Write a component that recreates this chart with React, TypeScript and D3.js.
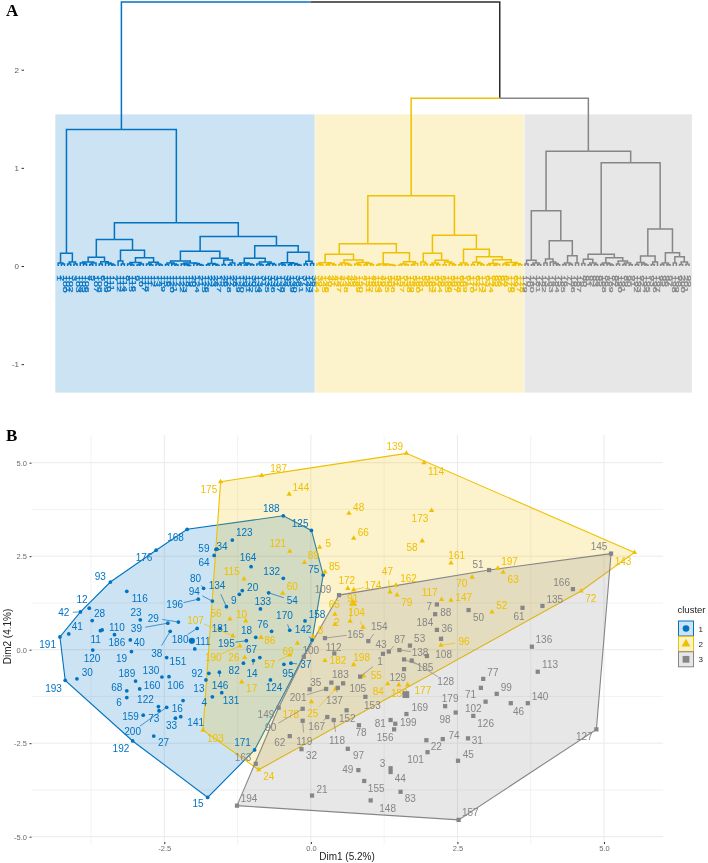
import React, { useEffect, useRef } from 'react';
import * as d3 from 'd3';

// scatter data: one set of arrays per cluster
const blueIds = [4, 6, 9, 11, 12, 13, 14, 15, 16, 18, 19, 20, 23, 27, 28, 29, 30, 33, 34, 37, 38, 39, 40, 41, 42, 54, 59, 64, 67, 68, 73, 75, 76, 80, 82, 92, 93, 94, 95, 106, 110, 111, 116, 120, 122, 123, 124, 125, 130, 131, 132, 133, 134, 141, 142, 146, 151, 158, 159, 160, 164, 168, 170, 171, 176, 180, 181, 186, 188, 189, 191, 192, 193, 195, 196, 200];
const blueDim1 = [-1.68, -3.14, -1.22, -3.59, -3.78, -1.79, -0.98, -1.76, -2.18, -0.94, -3.06, -1.17, -2.91, -2.68, -3.73, -2.26, -3.99, -2.31, -1.6, -0.34, -2.4, -2.44, -3.08, -4.13, -3.93, -0.72, -1.62, -1.65, -0.87, -3.14, -2.59, 0.21, -0.67, -1.83, -1.15, -1.74, -3.42, -1.68, -0.46, -2.42, -3.56, -1.98, -3.14, -3.72, -2.6, -1.34, -0.69, 0.01, -2.54, -1.52, -0.47, -0.86, -1.44, -2.22, 0.02, -1.56, -2.46, -0.1, -2.86, -2.92, -1.02, -2.11, -0.36, -0.96, -2.64, -1.94, -1.55, -3.35, -0.47, -2.99, -4.28, -3.04, -4.19, -1.1, -1.92, -2.46];
const blueDim2 = [-1.26, -1.28, 1.48, 0.51, 1.11, -0.81, -0.29, -3.95, -1.36, 0.33, -0.05, 1.58, 0.8, -2.31, 0.78, 0.74, -0.78, -1.83, 2.69, -0.36, 0.49, 0.71, 0.26, 0.42, 1.01, 1.52, 2.68, 2.52, -0.21, -1.1, -1.63, 2.0, 0.49, 1.64, -0.36, -0.63, 1.81, 1.3, -0.39, -0.72, 0.53, 0.02, 1.56, -0.01, -1.52, 2.93, -0.81, 3.19, -0.73, -1.15, 1.91, 1.09, 1.15, -1.79, 0.26, -0.6, -0.21, 0.77, -1.75, -1.05, 2.22, 3.22, 0.52, -2.68, 2.66, 0.57, 0.57, 0.4, 3.58, -0.84, 0.34, -2.44, -0.82, 0.24, 1.35, -1.54];

const yellowIds = [2, 5, 8, 10, 17, 24, 25, 26, 47, 48, 52, 55, 56, 57, 58, 60, 63, 65, 66, 69, 70, 72, 79, 84, 85, 86, 89, 91, 96, 103, 104, 107, 114, 115, 117, 121, 139, 143, 144, 147, 150, 161, 162, 172, 173, 174, 175, 177, 178, 182, 187, 190, 197, 198];
const yellowDim1 = [0.41, 0.15, 0.04, -1.11, -1.18, -0.89, 0.42, -1.13, 1.35, 0.65, 3.09, 0.9, -1.38, -0.36, 1.9, -0.48, 3.28, 0.41, 0.73, -0.23, 2.75, 4.61, 1.47, 1.31, 0.24, -0.85, -0.11, 0.67, 2.22, -1.84, 0.89, -1.33, 1.93, -1.14, 2.23, -0.36, 1.63, 5.52, -0.37, 2.39, 1.5, 2.39, 1.45, 0.63, 2.06, 0.73, -1.54, 1.65, 0.01, 0.24, -0.84, -1.21, 3.19, 0.73];
const yellowDim2 = [0.68, 2.74, 0.35, 0.77, -0.86, -3.21, -1.05, -0.21, 1.54, 3.65, 1.01, -0.7, 0.82, -0.14, 2.91, 1.51, 2.07, 0.95, 2.98, 0.17, 1.94, 1.57, 1.46, -0.91, 2.08, 0.33, 2.33, 0.76, 0.12, -2.15, 0.6, 0.37, 5.0, 1.89, 1.34, 2.63, 5.25, 2.6, 4.16, 1.32, -0.94, 2.32, 1.72, 1.64, 3.72, 1.6, 4.49, -0.94, -1.39, -0.29, 4.66, 0.1, 2.18, -0.4];

const grayIds = [1, 3, 7, 21, 22, 31, 32, 35, 36, 43, 44, 45, 46, 49, 50, 51, 53, 61, 62, 71, 74, 77, 78, 81, 83, 87, 88, 90, 97, 98, 99, 100, 101, 102, 105, 108, 109, 112, 113, 118, 119, 126, 127, 128, 129, 135, 136, 137, 138, 140, 145, 148, 149, 152, 153, 154, 155, 156, 157, 163, 165, 166, 167, 169, 179, 183, 184, 185, 194, 199, 201];
const grayDim1 = [0.84, 1.36, 2.15, 0.02, 1.97, 2.68, -0.16, -0.02, 2.22, 1.23, 1.36, 2.51, 3.41, 0.81, 2.69, 3.04, 1.69, 3.61, -0.36, 2.9, 2.25, 2.94, 0.82, 1.36, 1.53, 1.33, 2.12, -0.14, 0.63, 2.47, 3.17, -0.12, 1.99, 2.98, 0.55, 1.98, 0.48, 0.4, 3.87, 0.39, -0.14, 2.77, 4.87, 1.72, 1.59, 3.95, 3.77, 0.46, 1.51, 3.7, 5.12, 1.02, -0.55, 0.61, 0.93, 0.98, 0.91, 1.42, 2.52, -0.94, 0.24, 4.47, 0.28, 1.63, 2.29, 0.35, 2.15, 1.59, -1.26, 1.44, 0.26];
const grayDim2 = [-0.72, -3.17, 1.21, -3.9, -2.42, -2.37, -2.66, -1.06, 0.29, -0.11, -3.27, -2.97, -1.43, -3.22, 1.06, 2.13, 0.11, 1.12, -2.31, -1.02, -2.39, -0.78, -2.02, -1.88, -3.8, -0.05, 0.95, -1.58, -2.65, -1.68, -1.18, -0.19, -2.74, -1.39, -0.9, -0.17, 1.46, -0.1, -0.59, -1.88, -1.9, -1.77, -2.13, -0.29, -0.52, 1.17, 0.08, -1.02, -0.01, -1.43, 2.57, -4.03, -1.55, -1.62, -1.26, 0.23, -3.51, -2.13, -4.55, -3.05, 0.31, 1.62, -1.8, -1.72, -1.51, -0.88, 0.53, -0.26, -4.17, -1.98, -1.05];

// big marks at the middle of each cluster
const centroidDim1 = [-2.03, 0.72, 1.62];
const centroidDim2 = [0.24, 1.24, -1.2];

// ggrepel style label displacement, px from the point
const labelNudge: Record<number, [number, number]> = {
  4: [-8, 6], 6: [-7.7, 4.6], 9: [-5.6, 6], 11: [-4.7, 8.6], 12: [-7.3, -9], 13: [-7, 8.3], 14: [-1.3, 13.3], 15: [-9.7, 6.4], 16: [-5.7, 8], 18: [-9.3, -7.3],
  19: [-10, 6.6], 20: [10.4, -3], 23: [-4.3, -7.7], 27: [9.7, 6.3], 28: [7.4, -7.4], 29: [-25, -4], 30: [10.4, -6], 33: [-4, 7.3], 34: [5, -2.7], 37: [15, 1.7],
  38: [-13.3, 22], 39: [-31.4, 5.7], 40: [9, 2.7], 41: [8.6, -7.3], 42: [-16.6, 0.7], 54: [23.7, 7.6], 59: [-12, -1.2], 64: [-10, 7.4], 67: [-8.3, -7.7], 68: [-10, -3.4],
  73: [-5.3, 8.3], 75: [-9.3, -5.7], 76: [-8.7, -7.3], 80: [-8, -10], 82: [-9.3, 7.7], 92: [-11.7, 0.7], 93: [-10, -6], 94: [-18, -9.3], 95: [4, 9.7], 106: [6.7, 9],
  110: [14.7, -2.7], 111: [8.3, -7.7], 116: [13, 6.7], 120: [-0.7, 8], 122: [-13, -7], 123: [12, -7.3], 124: [3.6, 8], 125: [-11.3, -7], 130: [-11, -7], 131: [9.3, 8],
  132: [-11.6, -7], 133: [2.3, -7], 134: [-9.4, -20.7], 141: [15, 5.6], 142: [-9, -10.3], 146: [0.7, 13.7], 151: [11.3, 4.3], 158: [12, -6], 159: [-12.6, 1.7], 160: [12.3, -3.3],
  164: [-3, -9.4], 168: [-11.6, 8], 170: [-5.3, -14.3], 171: [-12, -7.7], 176: [-12, 7.7], 180: [-17, 11], 181: [0, -0.3], 186: [2.4, 7.6], 188: [-12, -7], 189: [-8.7, -7.3],
  191: [-12.3, 8], 192: [-11.7, 7.7], 193: [-11.7, 8.4], 195: [-20, 2.6], 196: [-23.6, 5.4], 200: [-34, 24],
  2: [2, -2], 5: [8.7, -4], 8: [7.4, -5.7], 10: [-4.3, -6.7], 17: [10, 7], 24: [10, 6.6], 25: [-22.7, 24.3], 26: [-10.7, 0], 47: [-2.6, -20.7], 48: [9.7, -5.6],
  52: [9.7, -6.7], 55: [12.7, 0], 56: [-14, -5.7], 57: [-20, 9.7], 58: [-10.3, 7], 60: [9.6, -7], 63: [10, 7.7], 65: [-0.6, -10], 66: [9.7, -6], 69: [-9.3, 8],
  70: [-10.3, 6.7], 72: [9.7, 7.7], 79: [9.7, 7], 84: [-9.4, 8], 85: [9.7, -5.3], 86: [8.7, 2.7], 89: [9, -7], 91: [2.7, -23], 96: [23, -3.3], 103: [12.4, 8.3],
  104: [-6.6, -14.6], 107: [-37.3, -15.3], 114: [12, 8.3], 115: [-12.3, -7.3], 117: [-12, -7], 121: [-12, -8], 139: [-11.7, -6.6], 143: [-11.4, 8.7], 144: [11.7, -7], 147: [12.7, -3],
  150: [0.6, 8.3], 161: [5.7, -7], 162: [12.7, -6.6], 172: [-1, -8], 173: [-11.7, 8], 174: [19.3, -4.4], 175: [-11.7, 7.6], 177: [15.3, 5.7], 178: [-20.7, 13.3], 182: [13, 0],
  187: [17, -6.5], 190: [-26.7, 11.3], 197: [11.7, -6.6], 198: [8, -6.7],
  1: [20, -15.4], 3: [-8, -4.3], 7: [-7.7, 2.4], 21: [10, -6], 22: [10, 6.4], 31: [9.4, 2.4], 32: [10, 6.7], 35: [6, -7.3], 36: [6, -10.7], 43: [-2, -9.4],
  44: [9.6, 7], 45: [10.3, -6], 46: [7.7, 8], 49: [-10.6, -0.3], 50: [10, 7], 51: [-11, -5.7], 53: [9.7, -7], 61: [-3.4, 8.6], 62: [-10, 6.3], 71: [-10.3, 7],
  74: [11.3, -3.7], 77: [9.7, -6], 78: [2, 7.7], 81: [-10.4, 3.3], 83: [9.7, 6.6], 87: [11, -12.4], 88: [10.7, -1.6], 90: [-32, 19], 97: [10.7, 7], 98: [-10.7, 7],
  99: [9.6, -6.4], 100: [7, -6.4], 101: [-12, 7.3], 102: [-12.3, 7], 105: [14.7, 4.7], 108: [16.7, -2], 109: [-16, -5.3], 112: [-0.7, -5.6], 113: [12.3, -7], 118: [3.3, 20.7],
  119: [1.6, 20.6], 126: [12.4, 7.3], 127: [-12, 7.4], 128: [34, 21], 129: [-6.3, 8.4], 135: [12.3, -6.7], 136: [12, -7.7], 137: [-3.4, 13], 138: [20.7, 2.7], 140: [12.3, -7],
  145: [-12, -7], 148: [17, 8], 149: [-12.7, 6.6], 152: [0.6, 8], 153: [7, 8.7], 154: [11, -14.3], 155: [12, 8], 156: [-9, 8], 157: [11.7, -7.7], 163: [-12.7, -6.4],
  165: [30.7, -4], 166: [-11.3, -7], 167: [-10.6, 9.7], 169: [13.3, -6.7], 179: [5, -7.3], 183: [9, -8.4], 184: [-12, -7.3], 185: [21, 8], 194: [12, -7.4], 199: [13, -1.4],
  201: [-28, 8.3],
};

// labels that were pushed far enough to get a connecting segment
const connectorIds = [14, 29, 37, 38, 39, 42, 54, 80, 94, 134, 142, 146, 170, 180, 195, 196, 200, 25, 47, 57, 91, 96, 104, 107, 174, 190, 1, 36, 87, 90, 118, 119, 128, 137, 138, 154, 165, 167, 185, 201];

// dendrogram: [height, left, right], o is a leaf
const o = 0;
const blueTree = [1.39,
  [0.13, [0.03, o, [0.02, o, o]], [0.04, [0.02, o, o], [0.02, o, o]]],
  [0.44,
    [0.27,
      [0.09,
        [0.04, [0.03, o, [0.02, o, o]], [0.03, [0.015, o, o], o]],
        [0.044, [0.02, o, o], [0.03, o, [0.02, o, [0.01, o, o]]]]],
      [0.16,
        [0.05, o, [0.02, o, o]],
        [0.085,
          [0.035, [0.02, o, [0.01, o, o]], [0.02, [0.01, o, o], o]],
          [0.037, [0.02, o, [0.01, o, o]], [0.02, o, [0.01, o, o]]]]]],
    [0.3,
      [0.15,
        [0.051,
          [0.03, [0.015, o, o], [0.02, o, [0.01, o, o]]],
          [0.03, [0.02, o, [0.012, o, [0.006, o, o]]], [0.025, o, [0.015, o, [0.008, o, o]]]]],
        [0.078,
          [0.025, [0.012, o, o], [0.018, o, [0.008, o, o]]],
          [0.06, [0.015, o, o], [0.03, [0.012, o, o], o]]]],
      [0.207,
        [0.078,
          [0.03, [0.015, o, o], [0.02, [0.01, o, o], [0.012, o, o]]],
          [0.04, [0.02, o, [0.01, o, o]], [0.025, [0.012, o, o], [0.015, o, o]]]],
        [0.14,
          [0.034, [0.02, o, [0.01, o, o]], [0.025, [0.012, o, o], [0.015, o, [0.008, o, o]]]],
          [0.048, [0.02, o, o], [0.025, o, o]]]]]]];
const yellowTree = [0.716,
  [0.227,
    [0.119,
      [0.034, [0.02, o, [0.01, o, o]], [0.025, [0.012, o, o], [0.014, o, o]]],
      [0.06, [0.03, [0.015, o, o], [0.02, o, [0.01, o, o]]], [0.035, [0.02, o, [0.01, o, o]], [0.025, [0.012, o, o], [0.014, o, o]]]]],
    [0.135,
      [0.02, [0.01, o, o], [0.015, [0.008, o, o], [0.011, o, [0.005, o, o]]]],
      [0.043, [0.02, [0.01, o, o], [0.012, o, o]], [0.025, [0.012, o, o], o]]]],
  [0.313,
    [0.129,
      [0.04, o, [0.02, o, o]],
      [0.058, [0.03, [0.012, o, o], [0.015, o, o]], [0.04, [0.012, o, o], [0.025, o, [0.012, o, o]]]]],
    [0.17,
      [0.03, [0.012, o, o], [0.016, o, o]],
      [0.095,
        [0.038, [0.015, o, o], [0.025, o, [0.012, o, o]]],
        [0.064,
          [0.025, [0.012, o, o], [0.018, [0.008, o, o], o]],
          [0.035, [0.02, o, [0.01, o, o]], [0.022, [0.01, o, o], [0.012, o, o]]]]]]]];
const grayTree = [1.168,
  [0.563,
    [0.058, [0.02, o, o], [0.03, [0.012, o, o], [0.015, o, o]]],
    [0.258,
      [0.071, [0.03, o, o], [0.04, o, [0.025, o, [0.012, o, o]]]],
      [0.105, [0.03, [0.015, o, o], [0.018, o, o]], [0.03, o, o]]]],
  [1.052,
    [0.119,
      [0.07, [0.025, o, o], [0.03, [0.012, o, o], [0.015, o, o]]],
      [0.085,
        [0.03, [0.015, o, o], [0.02, o, [0.01, o, o]]],
        [0.05, [0.02, o, o], [0.03, [0.015, o, o], [0.012, o, o]]]]],
    [0.377,
      [0.102,
        [0.035, [0.015, o, o], [0.02, o, [0.01, o, o]]],
        [0.04, [0.015, o, o], o]],
      [0.135,
        [0.03, [0.015, o, o], [0.012, o, o]],
        [0.095, [0.03, o, o], [0.04, [0.015, o, o], [0.018, o, o]]]]]]];
const dendroTree = [2.69, blueTree, [1.71, yellowTree, grayTree]];

// too small to read in the picture, estimated
const leafLabels = [
  1, 2, 100, 101, 102, 3, 103, 104, 105, 106, 4, 5, 107, 108, 6, 109, 110, 111, 7, 112, 113, 114, 8, 115, 116, 9, 10, 117, 118, 11, 12, 13, 14, 119, 15, 16, 120, 121, 17, 122, 123, 18, 19, 20, 124, 21, 125, 126, 22, 23, 24, 127, 25, 26, 128, 27, 28, 129, 130, 29, 131, 132, 30, 133, 134, 31, 135, 32, 136, 33, 137, 138, 34, 35, 139, 140, 36, 141, 37, 142, 143, 38,
  144, 39, 145, 146, 40, 41, 42, 147, 43, 148, 44, 45, 46, 149, 150, 47, 151, 152, 48, 153, 154, 49, 155, 50, 156, 51, 52, 157, 53, 158, 159, 54, 160, 161, 55, 56, 162, 163, 57, 164, 58, 165, 166, 59, 167, 168, 60, 169, 61, 170, 171, 62, 172, 173, 63, 174, 64, 65, 66, 67, 68, 175, 176, 69, 177, 178,
  179, 70, 180, 71, 181, 72, 182, 73, 183, 74, 184, 75, 185, 76, 77, 186, 78, 187, 79, 80, 81, 82, 83, 84, 85, 188, 86, 189, 87, 88, 190, 191, 89, 90, 91, 192, 193, 92, 194, 195, 93, 196, 197, 94, 95, 96, 97, 198, 199, 98, 200, 201, 99,
];

const clusterNames = ['1', '2', '3'];
const heightTicks = [-1, 0, 1, 2];
const dimTicks = [-2.5, 0, 2.5, 5];
const dim2Ticks = [-5, -2.5, 0, 2.5, 5];
const dim1Minor = [-3.75, -1.25, 1.25, 3.75];
const dim2Minor = [-3.75, -1.25, 1.25, 3.75];
// first leaf of each coloured rectangle
const bandStarts = [0, 82, 148, 201];

const BLUE = '#0073C2';
const YELLOW = '#EFC000';
const GRAY = '#868686';
const colors = [BLUE, YELLOW, GRAY];
const FONT = '"Liberation Sans", Arial, sans-serif';

// ggplot prints a plain hyphen for negative ticks
const plain = (spec: string) => (v: any) => d3.format(spec)(v).replace('\u2212', '-');

const App = () => {
  const ref = useRef<SVGSVGElement>(null);

  useEffect(() => {
    const svg = d3.select(ref.current);
    svg.selectAll('*').remove();

    // ---------- A: dendrogram ----------
    const leafX = d3.scaleLinear().domain([0, 200]).range([56.6, 690.6]);
    const dendY = d3.scaleLinear().domain([0, 2]).range([266, 69.7]);

    const a = svg.append('g');
    bandStarts.slice(0, 3).forEach((s, i) => {
      const x0 = leafX(s) - 1.3;
      const x1 = leafX(bandStarts[i + 1] - 1) + 1.3;
      a.append('rect')
        .attr('x', x0)
        .attr('y', dendY(1.545))
        .attr('width', x1 - x0)
        .attr('height', dendY(-1.29) - dendY(1.545))
        .attr('fill', colors[i])
        .attr('fill-opacity', 0.2);
    });

    const root = d3.hierarchy<any>(dendroTree, (d) => (Array.isArray(d) ? d.slice(1) : null));
    d3.cluster<any>().size([200, 1]).separation(() => 1)(root);

    const colorOf = (n: any) => {
      if (n.depth === 1) return n.parent.children[0] === n ? BLUE : '#2b2b2b';
      let cur = n;
      while (cur.depth > 2) cur = cur.parent;
      if (cur.parent.parent.children[0] === cur.parent) return BLUE;
      return cur.parent.children[0] === cur ? YELLOW : GRAY;
    };
    const heightOf = (n: any) => (Array.isArray(n.data) ? n.data[0] : 0);

    a.append('g')
      .attr('fill', 'none')
      .attr('stroke-width', 1.5)
      .selectAll('path')
      .data(root.descendants().slice(1))
      .enter()
      .append('path')
      .attr('stroke', (d: any) => colorOf(d))
      .attr(
        'd',
        (d: any) =>
          `M${leafX(d.x)},${dendY(heightOf(d))}V${dendY(heightOf(d.parent))}H${leafX(d.parent.x)}`
      );

    a.append('g')
      .attr('font-family', FONT)
      .attr('font-size', 6)
      .selectAll('text')
      .data(root.leaves())
      .enter()
      .append('text')
      .attr('transform', (d: any) => `translate(${leafX(d.x) - 1.6},275.2) rotate(90) scale(1.75,1)`)
      .attr('fill', (d: any) => colorOf(d))
      .attr('stroke', (d: any) => colorOf(d))
      .attr('stroke-width', 0.25)
      .text((d: any, i: number) => leafLabels[i]);

    const heightAxis = a
      .append('g')
      .attr('transform', 'translate(24,0)')
      .call(d3.axisLeft(dendY).tickValues(heightTicks).tickSize(2.5).tickPadding(2.5).tickFormat(plain('d')));
    heightAxis.select('.domain').remove();
    heightAxis.selectAll('text').attr('font-family', FONT).attr('font-size', 8).attr('fill', '#5a5a5a');
    heightAxis.selectAll('line').attr('stroke', '#333');

    // ---------- B: cluster plot ----------
    const dimX = d3.scaleLinear().domain([-2.5, 5]).range([164.3, 604]);
    const dimY = d3.scaleLinear().domain([-5, 5]).range([836.7, 462.7]);
    const panel = { left: 31.5, right: 663, top: 435, bottom: 845 };

    const b = svg.append('g');
    const grid = b.append('g').attr('stroke', '#ebebeb');
    [...dimTicks, ...dim1Minor].forEach((v, i) =>
      grid
        .append('line')
        .attr('x1', dimX(v))
        .attr('x2', dimX(v))
        .attr('y1', panel.top)
        .attr('y2', panel.bottom)
        .attr('stroke-width', i < dimTicks.length ? 1 : 0.6)
    );
    [...dim2Ticks, ...dim2Minor].forEach((v, i) =>
      grid
        .append('line')
        .attr('x1', panel.left)
        .attr('x2', panel.right)
        .attr('y1', dimY(v))
        .attr('y2', dimY(v))
        .attr('stroke-width', i < dim2Ticks.length ? 1 : 0.6)
    );

    const xAxis = b
      .append('g')
      .attr('transform', `translate(0,${panel.bottom - 3})`)
      .call(d3.axisBottom(dimX).tickValues(dimTicks).tickSize(2).tickPadding(2).tickFormat(plain('.1f')));
    xAxis.select('.domain').remove();
    const yAxis = b
      .append('g')
      .attr('transform', `translate(${panel.left},0)`)
      .call(d3.axisLeft(dimY).tickValues(dim2Ticks).tickSize(2).tickPadding(2.5).tickFormat(plain('.1f')));
    yAxis.select('.domain').remove();
    [xAxis, yAxis].forEach((ax) => {
      ax.selectAll('text').attr('font-family', FONT).attr('font-size', 7.5).attr('fill', '#6b6b6b');
      ax.selectAll('line').attr('stroke', '#333');
    });

    b.append('text')
      .attr('x', 347)
      .attr('y', 860)
      .attr('text-anchor', 'middle')
      .attr('font-family', FONT)
      .attr('font-size', 10)
      .attr('fill', '#222')
      .text('Dim1 (5.2%)');
    b.append('text')
      .attr('transform', 'translate(11,636.5) rotate(-90)')
      .attr('text-anchor', 'middle')
      .attr('font-family', FONT)
      .attr('font-size', 10)
      .attr('fill', '#222')
      .text('Dim2 (4.1%)');

    const clusters = [
      { ids: blueIds, d1: blueDim1, d2: blueDim2, shape: d3.symbolCircle, size: 11, big: 30, key: 34 },
      { ids: yellowIds, d1: yellowDim1, d2: yellowDim2, shape: d3.symbolTriangle, size: 12, big: 30, key: 34 },
      { ids: grayIds, d1: grayDim1, d2: grayDim2, shape: d3.symbolSquare, size: 18, big: 46, key: 46 },
    ];

    // hulls first so that every point stays on top
    clusters.forEach((c, k) => {
      const pts = c.ids.map((_, i) => [dimX(c.d1[i]), dimY(c.d2[i])] as [number, number]);
      const hull = d3.polygonHull(pts) as [number, number][];
      b.append('path')
        .attr('d', `M${hull.join('L')}Z`)
        .attr('fill', colors[k])
        .attr('fill-opacity', 0.2)
        .attr('stroke', colors[k])
        .attr('stroke-width', 1.1);
    });

    clusters.forEach((c, k) => {
      const g = b.append('g');
      c.ids.forEach((id, i) => {
        const px = dimX(c.d1[i]);
        const py = dimY(c.d2[i]);
        const [dx, dy] = labelNudge[id] || [8, -6];
        if (connectorIds.includes(id)) {
          const len = Math.hypot(dx, dy);
          const t = Math.max(0, (len - 9) / len);
          g.append('line')
            .attr('x1', px)
            .attr('y1', py)
            .attr('x2', px + dx * t)
            .attr('y2', py + dy * t)
            .attr('stroke', colors[k])
            .attr('stroke-width', 0.7);
        }
        g.append('path')
          .attr('transform', `translate(${px},${py})`)
          .attr('d', d3.symbol().type(c.shape).size(c.size)() as string)
          .attr('fill', colors[k]);
        g.append('text')
          .attr('x', px + dx)
          .attr('y', py + dy + 3.5)
          .attr('text-anchor', 'middle')
          .attr('font-family', FONT)
          .attr('font-size', 10)
          .attr('fill', colors[k])
          .text(id);
      });
      g.append('path')
        .attr('transform', `translate(${dimX(centroidDim1[k])},${dimY(centroidDim2[k])})`)
        .attr('d', d3.symbol().type(c.shape).size(c.big)() as string)
        .attr('fill', colors[k]);
    });

    // legend
    const legend = b.append('g').attr('transform', 'translate(678.5,621)');
    legend
      .append('text')
      .attr('x', -1)
      .attr('y', -8)
      .attr('font-family', FONT)
      .attr('font-size', 9.5)
      .attr('fill', '#222')
      .text('cluster');
    clusterNames.forEach((name, k) => {
      const c = clusters[k];
      const key = legend.append('g').attr('transform', `translate(0,${k * 15.4})`);
      key.append('rect').attr('width', 15).attr('height', 15).attr('fill', '#fff');
      key
        .append('rect')
        .attr('width', 15)
        .attr('height', 15)
        .attr('fill', colors[k])
        .attr('fill-opacity', 0.2)
        .attr('stroke', colors[k])
        .attr('stroke-width', 1);
      key
        .append('path')
        .attr('transform', 'translate(7.5,7.5)')
        .attr('d', d3.symbol().type(c.shape).size(c.key)() as string)
        .attr('fill', colors[k]);
      key
        .append('text')
        .attr('x', 20)
        .attr('y', 10.5)
        .attr('font-family', FONT)
        .attr('font-size', 8)
        .attr('fill', '#222')
        .text(name);
    });

    // panel letters
    [
      ['A', 16],
      ['B', 441],
    ].forEach(([letter, y]) =>
      svg
        .append('text')
        .attr('x', 6)
        .attr('y', y)
        .attr('font-family', '"Liberation Serif", serif')
        .attr('font-weight', 'bold')
        .attr('font-size', 17)
        .attr('fill', '#000')
        .text(letter as string)
    );
  }, []);

  return (
    <svg
      ref={ref}
      width={708}
      height={863}
      style={{ position: 'absolute', top: 0, left: 0, background: '#fff', filter: 'blur(0.35px)' }}
    />
  );
};

export default App;
